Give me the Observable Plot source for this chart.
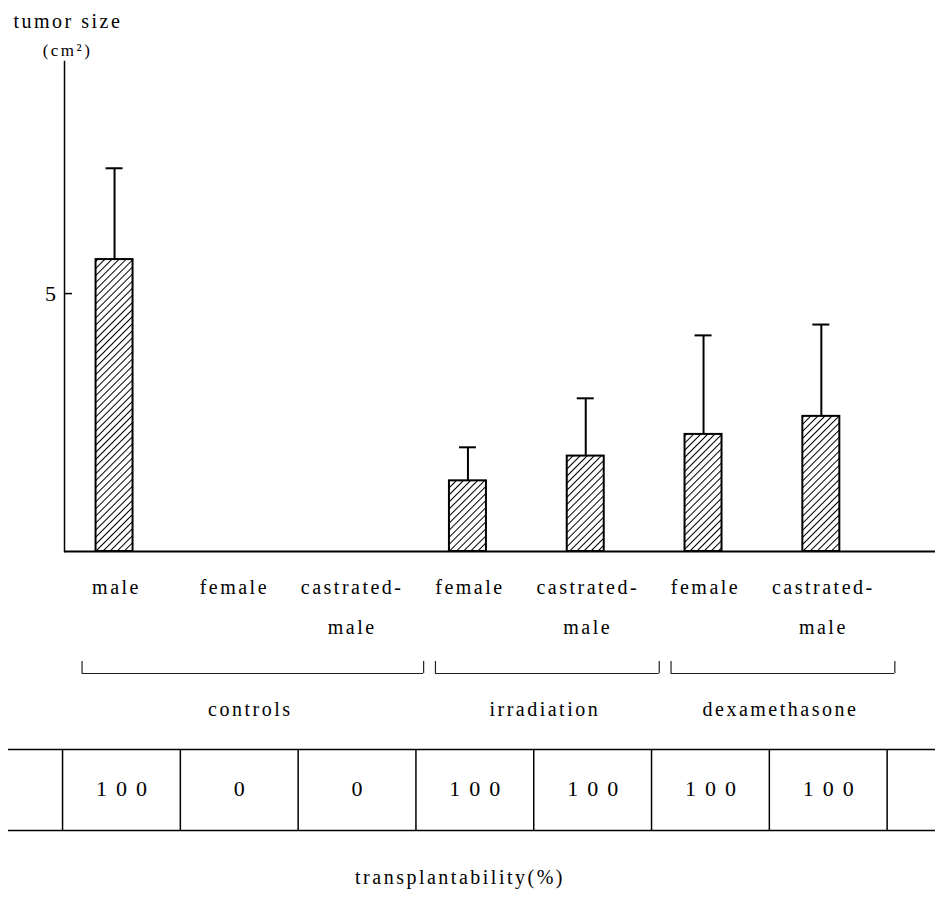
<!DOCTYPE html>
<html>
<head>
<meta charset="utf-8">
<script src="https://cdn.jsdelivr.net/npm/d3@7"></script>
<script src="https://cdn.jsdelivr.net/npm/@observablehq/plot@0.6"></script>
<style>
  html, body { margin: 0; padding: 0; background: #fff; }
  #chart svg { display: block; }
  #chart svg text { font-family: "Liberation Serif", "DejaVu Serif", serif; }
</style>
</head>
<body>
<div id="chart"></div>
<script>
// ---- data ----
const groups = ["controls", "controls", "controls", "irradiation", "irradiation", "dexamethasone", "dexamethasone"];
const subgroups = ["male", "female", "castrated-male", "female", "castrated-male", "female", "castrated-male"];
const tumorSize = [5.66, 0, 0, 1.37, 1.85, 2.27, 2.62];      // cm²
const tumorSD = [1.77, 0, 0, 0.65, 1.12, 1.92, 1.78];        // upper error bar length
const transplantability = [100, 0, 0, 100, 100, 100, 100];   // %
const groupNames = ["controls", "irradiation", "dexamethasone"];
const yTicks = [5];
const yMax = 9.5;

// ---- tables built from the arrays ----
const rows = subgroups.map((s, i) => ({
  key: groups[i] + "|" + s,
  group: groups[i],
  label: s.replace("-", "-\n"),
  size: tumorSize[i],
  sd: tumorSD[i],
  pct: transplantability[i]
}));
const keys = rows.map(d => d.key);
const bars = rows.filter(d => d.size > 0);
const groupRows = groupNames.map(g => {
  const r = rows.filter(d => d.group === g);
  return {name: g, first: r[0].key, last: r[r.length - 1].key, n: r.length};
});

// ---- layout ----
const W = 935, H = 908, ML = 64, MT = 61, MB = 357;
const PI = 0.686, PO = 0.54, ALIGN = 0.248;
const step = (W - ML) / (keys.length - PI + 2 * PO);
const bw = step * (1 - PI);
const serif = "Liberation Serif";
const lw = 1.5;
const T = {fontFamily: serif};

const plot = Plot.plot({
  width: W,
  height: H,
  marginLeft: ML,
  marginRight: 0,
  marginTop: MT,
  marginBottom: MB,
  style: {fontFamily: serif, fontSize: "20px", letterSpacing: "2.5px", background: "white", color: "black", overflow: "visible"},
  x: {type: "band", domain: keys, paddingInner: PI, paddingOuter: PO, align: ALIGN, round: false, axis: null},
  y: {domain: [0, yMax], label: null},
  marks: [
    // bars, error bars
    Plot.barY(bars, {x: "key", y: "size", fill: "url(#hatch)", stroke: "black", strokeWidth: 2}),
    Plot.ruleX(bars, {x: "key", y1: "size", y2: d => d.size + d.sd, stroke: "black", strokeWidth: 2}),
    Plot.tickY(bars, {x: "key", y: d => d.size + d.sd, insetLeft: 10, insetRight: 10, stroke: "black", strokeWidth: 2}),
    // axes
    Plot.frame({anchor: "left", stroke: "black", strokeWidth: lw}),
    Plot.ruleY([0], {stroke: "black", strokeWidth: 2}),
    Plot.axisY({ticks: yTicks, tickSize: 8, dx: 8, tickFormat: () => "", label: null, strokeWidth: lw}),
    Plot.axisY({ticks: yTicks, tickSize: 0, tickPadding: 6, label: null, fontSize: 22, fontFamily: serif}),
    // y title
    Plot.text(["tumor size"], {...T, frameAnchor: "top-left", textAnchor: "start", lineAnchor: "top", dx: -51, dy: -48}),
    Plot.text(["(cm²)"], {...T, frameAnchor: "top-left", textAnchor: "middle", lineAnchor: "top", dx: 3, dy: -18, fontSize: 17}),
    // category labels
    Plot.text(rows, {...T, x: "key", text: "label", frameAnchor: "bottom", lineAnchor: "top", lineHeight: 2, dy: 14, dx: 2}),
    // group brackets
    Plot.ruleY(groupRows, {x1: "first", x2: "last", y: () => 0, dy: 122, insetLeft: -14, insetRight: -55, stroke: "#222", strokeWidth: 1.2}),
    Plot.ruleX(groupRows, {x: "first", y1: () => 0, y2: () => 0, dx: -(bw / 2 + 14), insetTop: 122, insetBottom: -110, stroke: "#222", strokeWidth: 1.2}),
    Plot.ruleX(groupRows, {x: "last", y1: () => 0, y2: () => 0, dx: bw / 2 + 55, insetTop: 122, insetBottom: -110, stroke: "#222", strokeWidth: 1.2}),
    ...groupRows.map(g => Plot.text([g], {...T, x: "first", text: "name", frameAnchor: "bottom", lineAnchor: "top", dy: 150, dx: (g.n - 1) * step / 2 + 18})),
    // transplantability table
    Plot.ruleY([0], {dy: 198, insetLeft: -56, stroke: "black", strokeWidth: lw}),
    Plot.ruleY([0], {dy: 279, insetLeft: -56, stroke: "black", strokeWidth: lw}),
    Plot.ruleX(rows, {x: "key", y1: () => 0, y2: () => 0, dx: -52, insetTop: 279, insetBottom: -198, stroke: "black", strokeWidth: lw}),
    Plot.ruleX(rows.slice(-1), {x: "key", y1: () => 0, y2: () => 0, dx: step - 52, insetTop: 279, insetBottom: -198, stroke: "black", strokeWidth: lw}),
    Plot.text(rows, {...T, x: "key", text: d => String(d.pct), frameAnchor: "bottom", lineAnchor: "top", dy: 229, dx: step / 2 - 52 + 4.5, fontSize: 22, ariaDescription: "transplantability-values"}),
    Plot.text(["transplantability(%)"], {...T, frameAnchor: "bottom", lineAnchor: "top", dy: 318, dx: -40})
  ]
});

// hatch pattern for the bars
const svg = d3.select(plot);
const defs = svg.insert("defs", ":first-child");
const pat = defs.append("pattern")
  .attr("id", "hatch")
  .attr("patternUnits", "userSpaceOnUse")
  .attr("width", 5).attr("height", 5)
  .attr("patternTransform", "rotate(45)");
pat.append("rect").attr("width", 5).attr("height", 5).attr("fill", "white");
pat.append("line").attr("x1", 2.5).attr("y1", 0).attr("x2", 2.5).attr("y2", 5)
  .attr("stroke", "black").attr("stroke-width", 1);

svg.selectAll('g[aria-description="transplantability-values"] text').style("letter-spacing", "9px");

document.getElementById("chart").appendChild(plot);
</script>
</body>
</html>
